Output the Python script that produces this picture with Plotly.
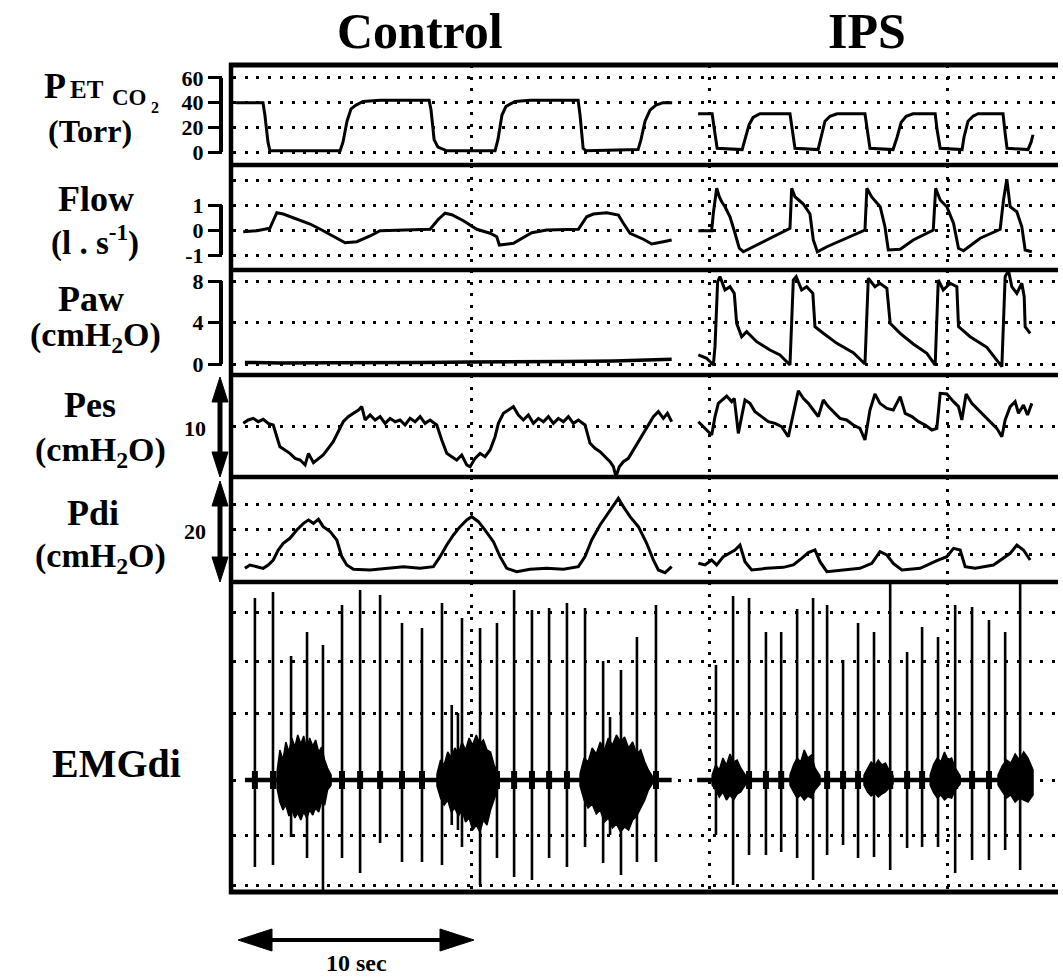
import plotly.graph_objects as go

W, H = 1063, 980
FONT = "Liberation Serif"

# ---------------- data (time in seconds) ----------------
petco2_ctrl_t = [0.13, 1.26, 1.34, 1.47, 1.55, 4.50, 4.62, 4.79, 4.96, 5.17, 5.46, 6.18, 8.24, 8.32, 8.45, 8.61, 8.99,
                 11.01, 11.13, 11.30, 11.47, 11.85, 12.48, 14.50, 14.58, 14.71, 14.83, 17.02, 17.14, 17.31, 17.52, 17.77, 18.07, 18.45]
petco2_ctrl = [40, 40, 30, 8, 1, 1, 8, 25, 35, 38, 41, 42, 42, 34, 10, 4, 1, 1, 10, 30, 37, 41, 42, 42, 30, 3, 1, 2, 10, 25, 34, 38, 40, 40]
petco2_ips_t = [19.54, 20.13, 20.21, 20.34, 21.39, 21.51, 21.68, 21.85, 22.14, 23.40, 23.49, 23.61, 24.58, 24.71, 24.87, 25.08, 25.38,
                26.55, 26.64, 26.76, 27.73, 27.90, 28.07, 28.28, 28.57, 29.50, 29.58, 29.71, 30.63, 30.71, 30.88, 31.09, 31.30,
                32.35, 32.44, 32.52, 33.40, 33.53, 33.61]
petco2_ips = [31, 31, 20, 3, 2, 10, 22, 28, 31, 31, 18, 3, 2, 12, 25, 29, 31, 31, 18, 3, 2, 12, 24, 29, 31, 31, 18, 3, 2, 12, 25, 29, 31,
              31, 15, 3, 2, 8, 14]

flow_ctrl_t = [0.43, 1.0, 1.55, 1.69, 1.84, 2.11, 2.68, 3.24, 3.79, 4.36, 4.71, 5.20, 5.76, 6.18, 6.88, 8.28, 8.63, 8.91, 9.19, 9.68,
               10.24, 10.80, 11.08, 11.19, 11.78, 12.20, 12.55, 13.18, 14.51, 14.86, 15.14, 15.70, 16.19, 16.40, 16.68, 17.24, 17.59, 18.08, 18.43]
flow_ctrl = [-0.07, -0.03, 0.07, 0.4, 0.69, 0.64, 0.43, 0.24, -0.03, -0.33, -0.51, -0.47, -0.24, -0.03, 0.0, 0.03, 0.43, 0.67, 0.61, 0.37,
             0.03, -0.13, -0.27, -0.6, -0.53, -0.29, -0.11, 0.0, 0.03, 0.53, 0.64, 0.69, 0.6, 0.27, -0.13, -0.37, -0.56, -0.47, -0.4]
flow_ips_t = [19.55, 20.11, 20.18, 20.32, 20.43, 20.53, 20.67, 20.88, 21.09, 21.27, 21.44, 21.86, 22.28, 22.98, 23.40, 23.47, 23.61,
              23.96, 24.24, 24.38, 24.55, 24.95, 25.79, 26.55, 26.63, 26.84, 27.19, 27.39, 27.53, 28.03, 28.58, 29.42, 29.52, 29.71,
              29.99, 30.27, 30.48, 30.69, 31.39, 32.23, 32.37, 32.51, 32.65, 32.93, 33.14, 33.28, 33.56]
flow_ips = [-0.03, -0.03, 0.67, 1.67, 1.33, 1.13, 0.93, 0.53, -0.13, -0.73, -0.87, -0.67, -0.47, -0.16, 0.07, 1.67, 1.33, 1.04, 0.64,
            -0.4, -0.87, -0.67, -0.33, 0.0, 1.67, 1.31, 0.93, 0.13, -0.8, -0.77, -0.4, 0.0, 1.67, 1.2, 0.93, 0.27, -0.73, -0.83, -0.33,
            0.03, 1.2, 2.03, 0.93, 0.73, 0.13, -0.8, -0.87]

paw_ctrl_t = [0.5, 2.0, 4.0, 6.0, 8.0, 10.0, 12.0, 14.0, 16.0, 18.0, 18.43]
paw_ctrl = [0.15, 0.1, 0.12, 0.1, 0.15, 0.2, 0.2, 0.25, 0.3, 0.4, 0.45]
paw_ips_t = [19.55, 19.90, 20.18, 20.25, 20.36, 20.46, 20.67, 20.88, 21.06, 21.16, 21.37, 21.58, 22.0, 22.56, 22.98, 23.40, 23.54,
             23.66, 23.89, 24.1, 24.36, 24.45, 24.80, 25.37, 26.06, 26.55, 26.69, 26.97, 27.18, 27.47, 27.61, 28.03, 28.58, 29.15,
             29.50, 29.63, 29.84, 30.13, 30.41, 30.48, 30.97, 31.67, 32.30, 32.44, 32.58, 32.72, 32.93, 33.14, 33.24, 33.28, 33.49]
paw_ips = [0.87, 0.55, -0.1, 1.67, 7.94, 8.42, 7.13, 7.45, 6.81, 3.92, 2.63, 3.12, 2.15, 1.35, 0.87, -0.1, 8.1, 8.42, 7.13, 7.45,
           6.81, 3.6, 2.96, 1.99, 1.09, 0.0, 8.26, 7.45, 7.78, 7.29, 3.92, 2.96, 1.93, 1.03, -0.1, 8.1, 7.13, 7.78, 7.45, 3.6,
           2.63, 1.61, -0.26, 8.42, 9.0, 7.45, 6.81, 7.78, 6.49, 3.6, 2.96]

pes_ctrl_t = [0.43, 0.64, 0.85, 1.06, 1.27, 1.48, 1.69, 1.84, 1.97, 2.18, 2.39, 2.61, 2.82, 3.03, 3.17, 3.38, 3.59, 3.79, 4.0, 4.21,
              4.42, 4.63, 4.84, 5.06, 5.27, 5.41, 5.55, 5.76, 5.97, 6.18, 6.39, 6.60, 6.81, 7.02, 7.23, 7.44, 7.65, 7.86, 8.07, 8.28,
              8.56, 8.77, 8.98, 9.19, 9.40, 9.61, 9.82, 9.96, 10.17, 10.38, 10.59, 10.80, 11.01, 11.15, 11.36, 11.57, 11.78, 11.99, 12.20, 12.41,
              12.62, 12.83, 13.04, 13.25, 13.46, 13.67, 13.88, 14.09, 14.30, 14.51, 14.79, 15.0, 15.21, 15.42, 15.63, 15.84, 15.98, 16.09, 16.23, 16.40,
              16.61, 16.82, 17.03, 17.24, 17.45, 17.66, 17.87, 18.08, 18.25, 18.43]
pes_ctrl = [5.26, 5.59, 5.75, 5.42, 5.65, 5.26, 5.10, 3.95, 2.97, 2.65, 2.32, 1.83, 1.67, 1.18, 2.32, 1.41, 1.83, 2.16, 2.81, 3.46,
            4.44, 5.42, 5.92, 6.24, 6.57, 6.90, 5.59, 6.08, 5.59, 5.92, 5.26, 5.75, 5.42, 5.59, 5.10, 5.75, 5.42, 5.92, 5.26, 5.59,
            5.10, 3.63, 2.32, 1.99, 1.67, 2.16, 1.18, 1.01, 1.83, 2.32, 1.99, 2.65, 3.95, 5.26, 6.24, 6.57, 6.90, 6.08, 5.59, 6.08,
            5.26, 5.75, 5.42, 5.92, 5.26, 5.75, 5.42, 5.92, 5.26, 5.59, 5.10, 3.30, 2.81, 2.48, 1.99, 1.50, 1.01, 0.03, 1.01, 1.50,
            1.83, 2.65, 3.46, 4.28, 5.10, 5.92, 6.41, 5.75, 6.24, 5.42]
pes_ips_t = [19.55, 19.83, 20.11, 20.25, 20.39, 20.74, 20.95, 21.06, 21.23, 21.37, 21.51, 21.72, 21.93, 22.21, 22.49, 22.77, 23.05,
             23.33, 23.54, 23.75, 23.96, 24.17, 24.38, 24.59, 24.80, 25.01, 25.22, 25.50, 25.78, 26.06, 26.34, 26.55, 26.76, 26.97,
             27.18, 27.47, 27.74, 28.03, 28.24, 28.52, 28.80, 29.08, 29.36, 29.57, 29.71, 29.99, 30.27, 30.48, 30.62, 30.80, 31.04,
             31.32, 31.60, 31.88, 32.09, 32.30, 32.44, 32.65, 32.86, 33.0, 33.21, 33.38, 33.56]
pes_ips = [5.42, 4.77, 4.12, 5.92, 7.22, 7.94, 7.39, 7.71, 4.28, 5.92, 7.55, 7.22, 6.41, 5.92, 5.42, 5.26, 4.93, 3.95, 6.24, 8.46,
           7.71, 7.22, 6.57, 5.92, 7.55, 6.90, 6.41, 5.75, 5.59, 5.10, 4.77, 3.63, 6.57, 8.14, 7.22, 6.73, 6.57, 7.88, 6.24, 5.92,
           5.42, 5.10, 4.61, 4.77, 8.20, 8.14, 7.39, 6.90, 5.59, 8.14, 7.22, 6.57, 5.92, 5.26, 4.77, 3.95, 5.59, 6.90, 7.39, 6.24,
           7.06, 6.08, 7.22]

pdi_ctrl_t = [0.50, 0.71, 1.0, 1.27, 1.48, 1.69, 1.90, 2.11, 2.39, 2.68, 2.96, 3.17, 3.38, 3.59, 3.79, 4.08, 4.36, 4.57, 4.78, 5.06,
              5.76, 6.46, 7.16, 7.86, 8.42, 8.70, 8.98, 9.26, 9.54, 9.82, 10.03, 10.31, 10.59, 10.94, 11.22, 11.50, 11.92, 12.48, 13.18, 13.88,
              14.51, 14.79, 15.07, 15.42, 15.77, 16.05, 16.19, 16.40, 16.68, 17.03, 17.38, 17.66, 17.87, 18.15, 18.43]
pdi_ctrl = [2.60, 3.24, 2.92, 2.60, 3.24, 4.19, 6.10, 7.37, 8.32, 9.90, 11.17, 11.81, 11.17, 11.94, 10.54, 9.59, 8.0, 4.83, 3.24, 2.41,
            2.29, 2.60, 2.92, 2.60, 2.92, 4.83, 7.05, 8.95, 10.54, 11.81, 12.44, 11.49, 9.90, 7.68, 4.83, 2.60, 1.97, 2.41, 2.60, 2.41,
            2.92, 4.83, 8.0, 10.86, 13.08, 14.98, 15.94, 14.35, 12.44, 10.54, 7.37, 4.19, 2.29, 1.78, 2.92]
pdi_ips_t = [19.55, 19.83, 20.11, 20.32, 20.60, 20.88, 21.09, 21.30, 21.51, 21.79, 22.42, 23.12, 23.54, 23.89, 24.17, 24.45, 24.66,
             24.95, 25.64, 26.34, 26.84, 27.18, 27.47, 27.74, 28.10, 28.87, 29.57, 29.99, 30.27, 30.55, 30.76, 31.18, 31.95, 32.37,
             32.65, 32.93, 33.21, 33.49]
pdi_ips = [3.56, 3.24, 4.19, 3.24, 4.83, 5.59, 6.10, 7.05, 3.87, 2.29, 2.60, 2.79, 3.24, 4.51, 5.59, 6.10, 3.87, 1.97, 2.29, 2.60,
           3.56, 5.78, 5.14, 3.56, 2.29, 2.60, 4.06, 4.83, 6.41, 6.10, 2.92, 2.60, 3.24, 4.51, 5.46, 7.05, 6.10, 4.19]

# EMGdi (arbitrary units, 0 = baseline)
emg_spans = [[0.5, 18.43], [19.5, 33.6]]
emg_spike_t = [0.92, 1.68, 2.44, 3.11, 3.78, 4.58, 5.34, 6.18, 7.10, 7.94, 8.78, 9.62, 10.38, 11.09, 11.81, 12.56, 13.28, 14.03,
               14.79, 15.55, 16.30, 16.97, 17.77,
               20.29, 21.01, 21.68, 22.39, 23.03, 23.70, 24.37, 24.96, 25.63, 26.26, 26.93, 27.61, 28.32, 28.95, 29.62, 30.34,
               31.05, 31.76, 32.44, 33.07]
emg_spike_top = [1.82, 1.88, 1.24, 1.48, 1.35, 1.75, 1.90, 1.85, 1.57, 1.52, 1.77, 1.62, 1.52, 1.57, 1.90, 1.70, 1.72, 1.77,
                 1.72, 1.19, 1.10, 1.43, 1.75,
                 1.15, 1.84, 1.82, 1.48, 1.48, 1.71, 1.82, 1.75, 1.20, 1.57, 1.48, 1.97, 1.28, 1.53, 1.43, 1.75, 1.73, 1.60, 1.48, 1.97]
emg_spike_bot = [-0.87, -0.85, -0.57, -0.78, -1.10, -0.78, -0.93, -0.63, -0.82, -0.82, -0.85, -0.67, -1.05, -0.78, -0.97, -1.0,
                 -0.78, -0.87, -0.67, -0.83, -0.95, -0.82, -0.82,
                 -0.55, -1.05, -0.75, -0.75, -0.72, -0.78, -1.0, -0.75, -0.65, -0.78, -0.77, -0.90, -0.68, -0.67, -0.67, -0.93,
                 -0.80, -0.80, -0.70, -0.90]
emg_minor_t = [9.19, 9.45, 15.84]
emg_minor_top = [0.75, 0.67, 0.63]
emg_minor_bot = [-0.45, -0.5, -0.55]
emg_burst_t = [[1.85, 1.97, 2.1, 2.22, 2.35, 2.47, 2.6, 2.72, 2.85, 2.97, 3.1, 3.22, 3.35, 3.47, 3.6, 3.72, 3.85, 3.97, 4.12],
               [8.57, 8.72, 8.87, 9.02, 9.17, 9.32, 9.47, 9.62, 9.77, 9.92, 10.07, 10.22, 10.37, 10.52, 10.67, 10.82, 10.97, 11.18],
               [14.58, 14.75, 14.92, 15.09, 15.26, 15.43, 15.6, 15.77, 15.94, 16.11, 16.28, 16.45, 16.62, 16.79, 16.96, 17.13, 17.3, 17.45, 17.61],
               [20.13, 20.28, 20.43, 20.58, 20.73, 20.88, 21.03, 21.18, 21.33, 21.55],
               [23.4, 23.55, 23.7, 23.85, 24.0, 24.15, 24.3, 24.45, 24.66],
               [26.51, 26.66, 26.81, 26.96, 27.11, 27.26, 27.41, 27.56, 27.73],
               [29.29, 29.44, 29.59, 29.74, 29.89, 30.04, 30.19, 30.34, 30.55],
               [32.14, 32.32, 32.5, 32.68, 32.86, 33.04, 33.22, 33.4, 33.61]]
emg_burst_hi = [[0.08, 0.3, 0.2, 0.38, 0.28, 0.42, 0.33, 0.45, 0.36, 0.44, 0.3, 0.42, 0.34, 0.4, 0.28, 0.33, 0.2, 0.12, 0.05],
                [0.06, 0.2, 0.15, 0.28, 0.22, 0.32, 0.26, 0.38, 0.3, 0.42, 0.35, 0.45, 0.36, 0.4, 0.3, 0.28, 0.15, 0.05],
                [0.06, 0.22, 0.18, 0.32, 0.26, 0.38, 0.3, 0.42, 0.35, 0.45, 0.38, 0.43, 0.32, 0.38, 0.26, 0.3, 0.18, 0.1, 0.04],
                [0.05, 0.15, 0.1, 0.22, 0.15, 0.26, 0.18, 0.2, 0.12, 0.04],
                [0.05, 0.15, 0.22, 0.18, 0.3, 0.22, 0.25, 0.12, 0.04],
                [0.05, 0.12, 0.18, 0.14, 0.2, 0.15, 0.17, 0.1, 0.04],
                [0.05, 0.16, 0.22, 0.18, 0.28, 0.2, 0.22, 0.12, 0.04],
                [0.05, 0.14, 0.2, 0.17, 0.26, 0.2, 0.28, 0.22, 0.1]]
emg_burst_lo = [[-0.08, -0.22, -0.3, -0.25, -0.36, -0.3, -0.38, -0.33, -0.4, -0.32, -0.38, -0.3, -0.35, -0.28, -0.32, -0.22, -0.25, -0.1, -0.05],
                [-0.06, -0.18, -0.25, -0.2, -0.32, -0.28, -0.36, -0.3, -0.42, -0.38, -0.5, -0.45, -0.52, -0.4, -0.45, -0.3, -0.2, -0.05],
                [-0.06, -0.2, -0.28, -0.24, -0.34, -0.3, -0.42, -0.38, -0.48, -0.44, -0.52, -0.47, -0.5, -0.4, -0.36, -0.28, -0.2, -0.1, -0.04],
                [-0.05, -0.1, -0.17, -0.12, -0.2, -0.15, -0.2, -0.14, -0.12, -0.04],
                [-0.05, -0.12, -0.18, -0.15, -0.2, -0.16, -0.18, -0.1, -0.04],
                [-0.05, -0.12, -0.16, -0.13, -0.17, -0.14, -0.12, -0.08, -0.04],
                [-0.05, -0.13, -0.18, -0.15, -0.2, -0.17, -0.18, -0.1, -0.04],
                [-0.05, -0.12, -0.18, -0.15, -0.22, -0.18, -0.2, -0.22, -0.15]]

# ---------------- helpers ----------------
def PX(x):
    return x / W


def PY(y):
    return 1 - y / H


fig = go.Figure()


def add_line(t, v, yax, width=3.0):
    fig.add_trace(go.Scatter(x=t, y=v, xaxis="x", yaxis=yax, mode="lines",
                             line=dict(color="black", width=width), hoverinfo="skip", showlegend=False))


add_line(petco2_ctrl_t, petco2_ctrl, "y")
add_line(petco2_ips_t, petco2_ips, "y")
add_line(flow_ctrl_t, flow_ctrl, "y2")
add_line(flow_ips_t, flow_ips, "y2")
add_line(paw_ctrl_t, paw_ctrl, "y3", 3.5)
add_line(paw_ips_t, paw_ips, "y3")
add_line(pes_ctrl_t, pes_ctrl, "y4")
add_line(pes_ips_t, pes_ips, "y4")
add_line(pdi_ctrl_t, pdi_ctrl, "y5")
add_line(pdi_ips_t, pdi_ips, "y5")

# EMG baseline
bx, by = [], []
for a, b in emg_spans:
    bx += [a, b, None]
    by += [0, 0, None]
add_line(bx, by, "y6", 4.5)

# EMG bursts (filled envelopes)
px_, py_ = [], []
for ts, hi, lo in zip(emg_burst_t, emg_burst_hi, emg_burst_lo):
    px_ += ts + ts[::-1] + [ts[0], None]
    py_ += hi + lo[::-1] + [hi[0], None]
fig.add_trace(go.Scatter(x=px_, y=py_, xaxis="x", yaxis="y6", mode="lines", fill="toself",
                         fillcolor="black", line=dict(color="black", width=1.5), hoverinfo="skip", showlegend=False))

# EMG spikes
sx, sy = [], []
for t, top, bot in zip(emg_spike_t + emg_minor_t, emg_spike_top + emg_minor_top, emg_spike_bot + emg_minor_bot):
    sx += [t, t, None]
    sy += [bot, top, None]
add_line(sx, sy, "y6", 2.6)
cx, cy = [], []
for t in emg_spike_t:
    cx += [t, t, None]
    cy += [-0.09, 0.09, None]
add_line(cx, cy, "y6", 6)

# ---------------- axes ----------------
GD = "3px,8.7px"
tickfont = dict(family=FONT, size=22, color="black", weight="bold")


def yax(top_px, bot_px, rng, tickvals, labels=None, minor=None):
    d = dict(domain=[PY(bot_px), PY(top_px)], range=rng, tickvals=tickvals, showgrid=True,
             gridcolor="black", gridwidth=2.5, griddash=GD, zeroline=False, showline=False, fixedrange=True)
    if labels is not None:
        d.update(anchor="free", position=PX(222), side="left", ticks="outside", ticklen=14, tickwidth=3,
                 tickcolor="black", showticklabels=True, ticktext=labels, tickfont=tickfont)
    else:
        d.update(anchor="x", ticks="", showticklabels=False)
    if minor is not None:
        d["minor"] = dict(tickvals=minor, showgrid=True, gridcolor="black", gridwidth=2.5, griddash=GD, ticks="")
    return d


fig.update_layout(
    width=W, height=H, margin=dict(l=0, r=0, t=0, b=0),
    paper_bgcolor="white", plot_bgcolor="white", showlegend=False, template="none",
    xaxis=dict(domain=[PX(233), PX(1058)], range=[0, 34.66], tickvals=[10, 20, 30], showgrid=True,
               gridcolor="black", gridwidth=2.5, griddash=GD, showticklabels=False, ticks="",
               zeroline=False, showline=False, anchor="y6", fixedrange=True),
    yaxis=yax(65, 165, [-10.5, 70.5], [0, 20, 40, 60], ["0", "20", "40", "60"]),
    yaxis2=yax(165, 270, [-1.6, 2.6], [-1, 0, 1], ["-1", "0", "1"], minor=[2]),
    yaxis3=yax(270, 375, [-1.06, 9.06], [0, 4, 8], ["0", "4", "8"]),
    yaxis4=yax(375, 477, [0, 10], [5]),
    yaxis5=yax(477, 582, [0, 20], [5.3, 10.0, 14.7]),
    yaxis6=yax(582, 892, [-1.12, 1.98], [-1.05, -0.55, 0, 0.67, 1.19, 1.68]),
)

# ---------------- frame, brackets, arrows ----------------
shapes = []


def hline(y, x0, x1, w):
    shapes.append(dict(type="line", xref="paper", yref="paper", x0=PX(x0), x1=PX(x1), y0=PY(y), y1=PY(y),
                       line=dict(color="black", width=w)))


def vline(x, y0, y1, w):
    shapes.append(dict(type="line", xref="paper", yref="paper", x0=PX(x), x1=PX(x), y0=PY(y0), y1=PY(y1),
                       line=dict(color="black", width=w)))


def tri(p1, p2, p3):
    shapes.append(dict(type="path", xref="paper", yref="paper",
                       path=f"M{PX(p1[0])},{PY(p1[1])} L{PX(p2[0])},{PY(p2[1])} L{PX(p3[0])},{PY(p3[1])} Z",
                       fillcolor="black", line=dict(color="black", width=1)))


hline(65, 229, 1058, 5)
for yy in [165, 270, 375, 477, 582]:
    hline(yy, 229, 1058, 4.5)
hline(892, 229, 1058, 5)
vline(231, 63, 894, 4.5)

# tick brackets
for yref, lo, hi in [("y", 0, 60), ("y2", -1, 1), ("y3", 0, 8)]:
    shapes.append(dict(type="line", xref="paper", yref=yref, x0=PX(221), x1=PX(221), y0=lo, y1=hi,
                       line=dict(color="black", width=4)))

# double arrows (Pes, Pdi)
for top, bot in [(377, 477), (481, 582)]:
    vline(220, top + 18, bot - 18, 5)
    tri((220, top), (212, top + 25), (228, top + 25))
    tri((220, bot), (212, bot - 25), (228, bot - 25))

# 10 sec arrow
hline(940, 262, 452, 4)
tri((238, 940), (272, 929), (272, 951))
tri((474, 940), (440, 929), (440, 951))

fig.update_layout(shapes=shapes)

# ---------------- text ----------------
ann = []


def text(s, x, y, size, xanchor="center"):
    ann.append(dict(text=s, x=PX(x), y=PY(y), xref="paper", yref="paper", xanchor=xanchor, yanchor="middle",
                    showarrow=False, font=dict(family=FONT, size=size, color="black")))


text("<b>Control</b>", 420, 31, 50)
text("<b>IPS</b>", 867, 31, 50)
text("<b>P</b>", 42, 86, 36, "left")
text("<b>ET</b>", 68, 90, 25, "left")
text("<b>CO</b>", 110, 98, 23, "left")
text("<b>2</b>", 149, 108, 16, "left")
text("<b>(Torr)</b>", 90, 131, 32)
text("<b>Flow</b>", 96, 199, 36)
text("<b>(l . s<sup>-1</sup>)</b>", 95, 240, 33)
text("<b>Paw</b>", 91, 299, 36)
text("<b>(cmH<sub>2</sub>O)</b>", 95, 337, 34)
text("<b>Pes</b>", 90, 405, 36)
text("<b>(cmH<sub>2</sub>O)</b>", 100, 452, 34)
text("<b>10</b>", 195, 428, 22)
text("<b>Pdi</b>", 93, 513, 36)
text("<b>(cmH<sub>2</sub>O)</b>", 100, 558, 34)
text("<b>20</b>", 195, 531, 22)
text("<b>EMGdi</b>", 116, 763, 40)
text("<b>10 sec</b>", 356, 963, 24)

fig.update_layout(annotations=ann)

fig.write_html("out.html")
